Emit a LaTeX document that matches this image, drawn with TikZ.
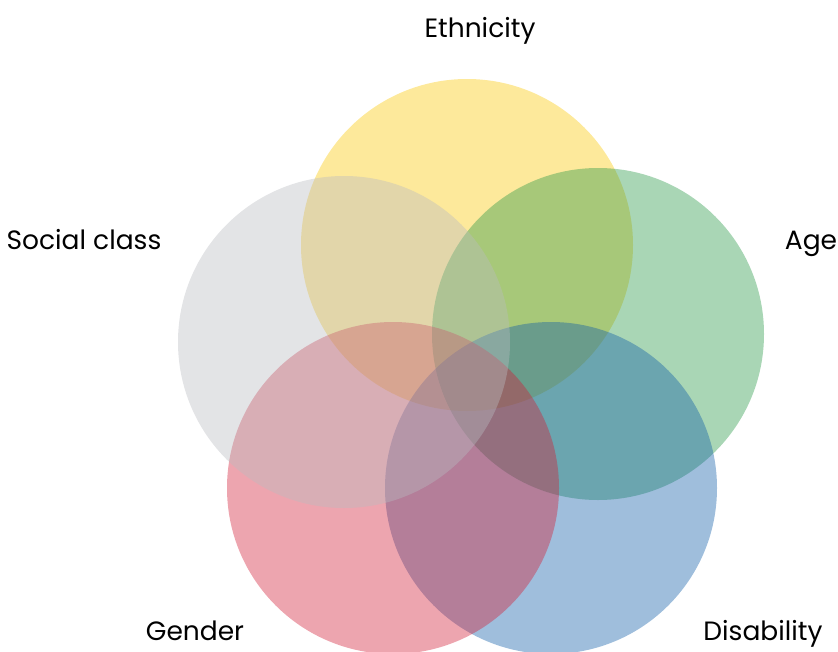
\documentclass[tikz,border=0pt]{standalone}
\usepackage{fontspec}
\setmainfont{Poppins}
\usepackage{xcolor}
\usepackage{tikz}

\definecolor{ethnicity}{RGB}{250,200,5}
\definecolor{age}{RGB}{40,152,70}
\definecolor{disability}{RGB}{15,92,167}
\definecolor{gender}{RGB}{210,30,55}
\definecolor{socialclass}{RGB}{185,187,192}

\begin{document}
\begin{tikzpicture}[x=1pt, y=-1pt,
                    set/.style={circle, minimum size=332pt, inner sep=0pt,
                                fill opacity=0.4},
                    label/.style={anchor=base, font=\fontsize{26.5}{31}\selectfont}]
  \useasboundingbox (0,0) rectangle (838,651);
  % the five sets, back to front
  \node[set, fill=ethnicity]   (ethnicity)   at (467,245) {};
  \node[set, fill=age]         (age)         at (598,334) {};
  \node[set, fill=disability]  (disability)  at (551,488) {};
  \node[set, fill=gender]      (gender)      at (393,488) {};
  \node[set, fill=socialclass] (socialclass) at (344,342) {};
  % names
  \node[label] (ethnicitytext)   at (480,37)  {Ethnicity};
  \node[label] (socialclasstext) at (84,249)  {Social class};
  \node[label] (agetext)         at (811,249) {Age};
  \node[label] (gendertext)      at (195,640) {Gender};
  \node[label] (disabilitytext)  at (763,640) {Disability};
\end{tikzpicture}
\end{document}
